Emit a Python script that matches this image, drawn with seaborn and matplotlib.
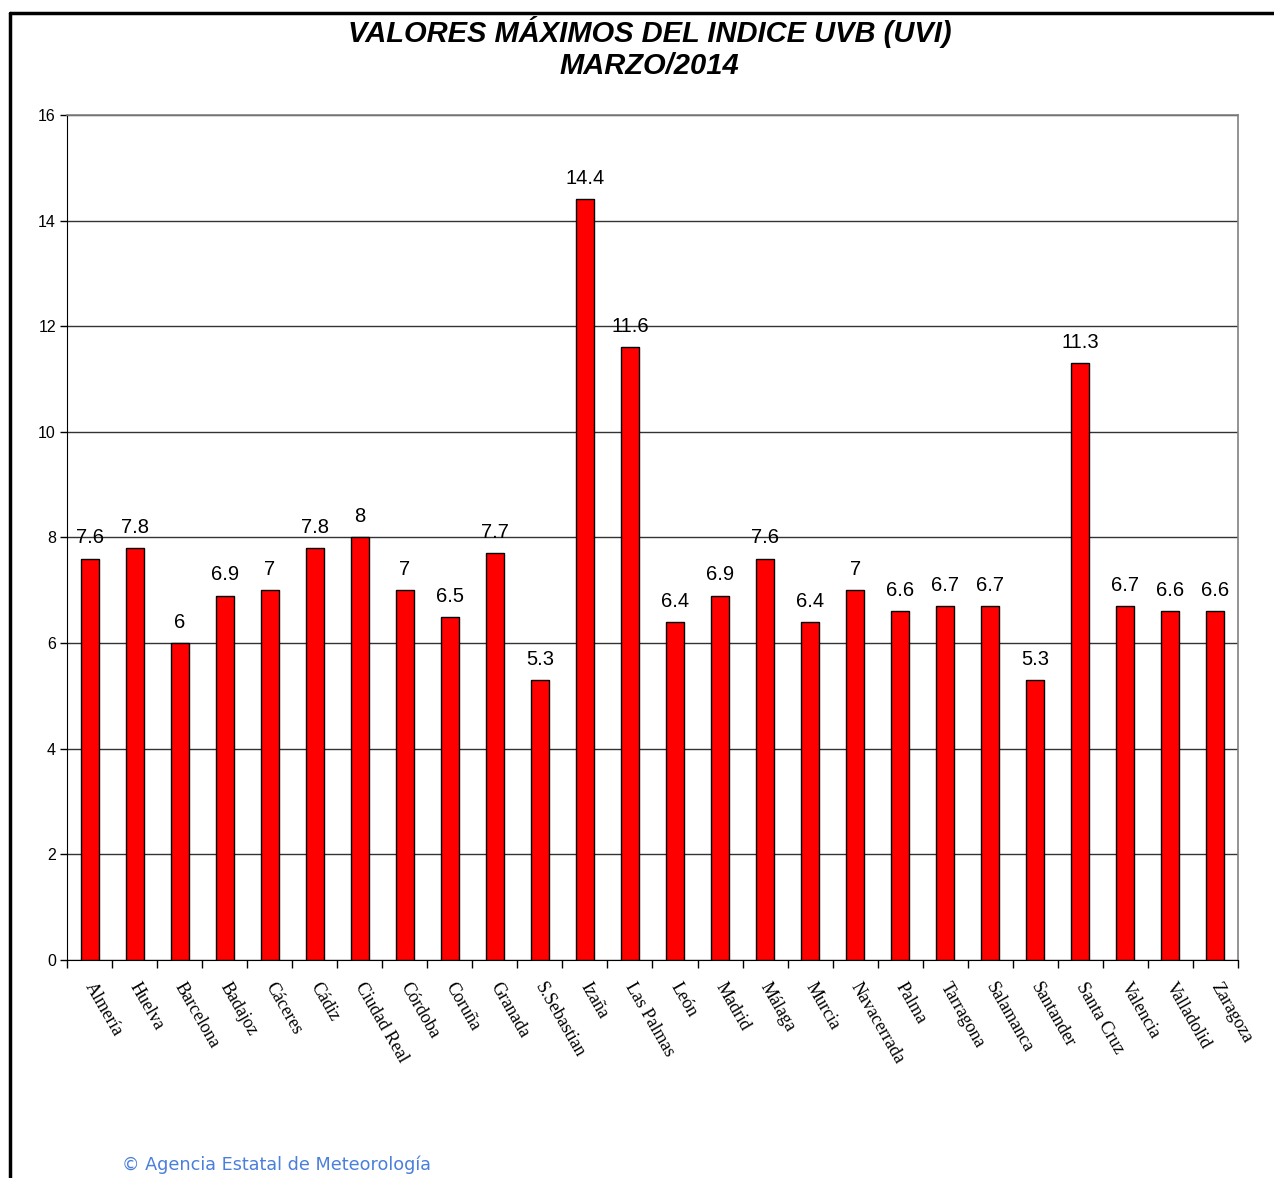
import matplotlib
matplotlib.use("Agg")
import matplotlib.pyplot as plt
from matplotlib.lines import Line2D
import seaborn as sns
import pandas as pd

# Maximum UV index per station, March 2014
stations = ["Almería", "Huelva", "Barcelona", "Badajoz", "Cáceres", "Cádiz",
            "Ciudad Real", "Córdoba", "Coruña", "Granada", "S.Sebastian", "Izaña",
            "Las Palmas", "León", "Madrid", "Málaga", "Murcia", "Navacerrada",
            "Palma", "Tarragona", "Salamanca", "Santander", "Santa Cruz",
            "Valencia", "Valladolid", "Zaragoza"]
uvi_max = [7.6, 7.8, 6, 6.9, 7, 7.8, 8, 7, 6.5, 7.7, 5.3, 14.4, 11.6, 6.4, 6.9,
           7.6, 6.4, 7, 6.6, 6.7, 6.7, 5.3, 11.3, 6.7, 6.6, 6.6]
y_ticks = [0, 2, 4, 6, 8, 10, 12, 14, 16]

title_text = "VALORES MÁXIMOS DEL INDICE UVB (UVI)\nMARZO/2014"
footer_text = "© Agencia Estatal de Meteorología"

df = pd.DataFrame({"station": stations, "uvi": uvi_max})

sns.set_style("white")
plt.rcParams["font.family"] = ["Liberation Sans", "DejaVu Sans"]
plt.rcParams["text.color"] = "black"
plt.rcParams["xtick.color"] = "black"
plt.rcParams["ytick.color"] = "black"
plt.rcParams["axes.labelcolor"] = "black"

fig = plt.figure(figsize=(12.74, 11.78), dpi=100)
ax = fig.add_axes([0.0526, 0.1851, 0.9191, 0.7173])

sns.barplot(data=df, x="station", y="uvi", color="#ff0000", saturation=1,
            width=0.4, edgecolor="black", linewidth=1.0, ax=ax, zorder=3)

ax.set_ylim(0, 16)
ax.set_xlim(-0.5, len(stations) - 0.5)
ax.set_yticks(y_ticks)
ax.set_yticklabels([str(t) for t in y_ticks], fontsize=11.5)
ax.yaxis.grid(True, color="#333333", linewidth=1.0, zorder=0)
ax.set_axisbelow(True)
ax.set_xlabel("")
ax.set_ylabel("")

# value labels on top of each bar
ax.bar_label(ax.containers[0], labels=[f"{v:g}" for v in uvi_max],
             padding=8, fontsize=14.5, color="black")

# category boundary ticks, station names rotated below
ax.set_xticks([i - 0.5 for i in range(len(stations) + 1)], minor=False)
ax.set_xticklabels([])
ax.tick_params(axis="x", direction="out", length=6, width=1, color="black", bottom=True)
ax.tick_params(axis="y", direction="out", length=5, width=1, color="black", left=True, pad=3)
for i, name in enumerate(stations):
    ax.text(i - 0.02, -0.45, name, rotation=-60, rotation_mode="anchor",
            ha="left", va="center", fontsize=13, family="Liberation Serif",
            color="black", transform=ax.transData, clip_on=False)

for side in ["top", "right"]:
    ax.spines[side].set_color("#808080")
    ax.spines[side].set_linewidth(1.2)
ax.spines["left"].set_color("black")
ax.spines["bottom"].set_color("black")
for side in ax.spines:
    ax.spines[side].set_visible(True)

fig.text(0.51, 0.986, title_text, ha="center", va="top", fontsize=21,
         fontweight="bold", fontstyle="italic", linespacing=1.15, color="black")

fig.text(0.096, 0.003, footer_text, ha="left", va="bottom", fontsize=12.7,
         color="#4a7fdc", family="DejaVu Sans")

# outer frame: top and left edges
fig.add_artist(Line2D([0.0075, 1.0], [0.989, 0.989], color="black", linewidth=2.5,
                      transform=fig.transFigure))
fig.add_artist(Line2D([0.0075, 0.0075], [0.0, 0.989], color="black", linewidth=2.5,
                      transform=fig.transFigure))

fig.savefig("out.png", dpi=100)
